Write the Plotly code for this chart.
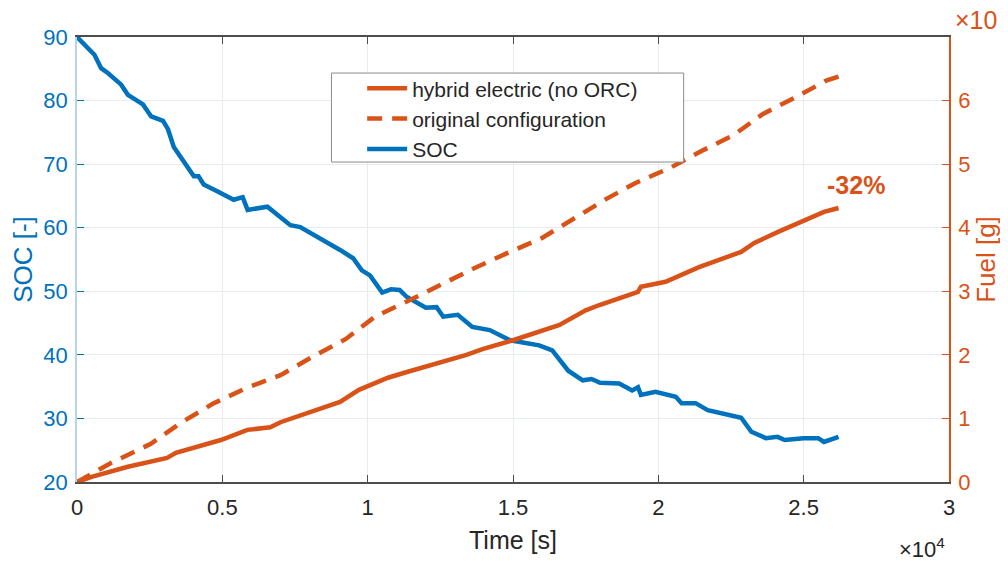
import plotly.graph_objects as go

# Time in units of 1e4 s
soc_t = [0, 0.06, 0.083, 0.107, 0.152, 0.175, 0.227, 0.255, 0.296, 0.313, 0.333, 0.381, 0.402, 0.418,
         0.436, 0.484, 0.539, 0.57, 0.587, 0.655, 0.70, 0.734, 0.768, 0.86, 0.905, 0.95, 0.98, 1.008,
         1.05, 1.08, 1.11, 1.135, 1.20, 1.237, 1.26, 1.31, 1.36, 1.42, 1.49, 1.59, 1.635, 1.69, 1.74,
         1.77, 1.80, 1.865, 1.91, 1.93, 1.94, 1.99, 2.06, 2.08, 2.128, 2.17, 2.24, 2.285, 2.32, 2.37,
         2.41, 2.435, 2.50, 2.55, 2.57, 2.62]
soc_v = [90, 87.2, 85.1, 84.3, 82.5, 80.9, 79.4, 77.5, 76.8, 75.5, 72.7, 69.7, 68.1, 68.1,
         66.8, 65.7, 64.4, 64.8, 62.8, 63.3, 61.7, 60.4, 60.1, 57.8, 56.5, 55.2, 53.3, 52.5,
         49.8, 50.3, 50.2, 49.1, 47.4, 47.5, 46.0, 46.3, 44.4, 43.9, 42.3, 41.5, 40.7, 37.5, 36.0,
         36.2, 35.6, 35.5, 34.4, 34.9, 33.7, 34.2, 33.4, 32.4, 32.4, 31.3, 30.5, 30.1, 27.9, 26.9,
         27.1, 26.6, 26.9, 26.9, 26.3, 27.1]

hyb_t = [0, 0.05, 0.175, 0.31, 0.34, 0.495, 0.586, 0.665, 0.70, 0.86, 0.905, 0.97, 1.07, 1.135,
         1.22, 1.27, 1.34, 1.395, 1.50, 1.66, 1.75, 1.795, 1.93, 1.94, 2.025, 2.14, 2.285, 2.33,
         2.41, 2.57, 2.62]
hyb_v = [0, 0.08, 0.24, 0.38, 0.46, 0.66, 0.82, 0.86, 0.94, 1.19, 1.26, 1.45, 1.64, 1.73,
         1.84, 1.92, 2.0, 2.09, 2.23, 2.47, 2.70, 2.78, 2.99, 3.07, 3.15, 3.38, 3.62, 3.76,
         3.93, 4.25, 4.31]

orig_t = [0, 0.117, 0.254, 0.357, 0.467, 0.583, 0.70, 0.81, 0.925, 1.025, 1.14, 1.25, 1.37, 1.48,
          1.60, 1.82, 1.92, 2.04, 2.15, 2.26, 2.36, 2.48, 2.58, 2.63]
orig_v = [0, 0.30, 0.60, 0.93, 1.23, 1.48, 1.68, 1.97, 2.25, 2.60, 2.85, 3.10, 3.37, 3.60,
          3.84, 4.45, 4.70, 4.94, 5.21, 5.46, 5.79, 6.07, 6.32, 6.39]

x_ticks = [0, 0.5, 1, 1.5, 2, 2.5, 3]
x_labels = ["0", "0.5", "1", "1.5", "2", "2.5", "3"]
soc_ticks = [20, 30, 40, 50, 60, 70, 80, 90]
fuel_ticks = [0, 1, 2, 3, 4, 5, 6]

BLUE = "#0072BD"
ORANGE = "#D95319"
FONT = "Liberation Sans, Arial, sans-serif"

fig = go.Figure()
fig.add_trace(go.Scatter(x=hyb_t, y=hyb_v, yaxis="y2", mode="lines", name="hybrid electric (no ORC)",
                         line=dict(color=ORANGE, width=4.5)))
fig.add_trace(go.Scatter(x=orig_t, y=orig_v, yaxis="y2", mode="lines", name="original configuration",
                         line=dict(color=ORANGE, width=4.5, dash="15px,10px")))
fig.add_trace(go.Scatter(x=soc_t, y=soc_v, yaxis="y", mode="lines", name="SOC",
                         line=dict(color=BLUE, width=4.5)))

fig.update_layout(
    width=1008, height=561,
    margin=dict(l=66, r=67, t=29, b=87),
    paper_bgcolor="white", plot_bgcolor="white",
    font=dict(family=FONT, size=22, color="#262626"),
    showlegend=True,
    legend=dict(x=0.327, y=0.93, xanchor="left", yanchor="top",
                bgcolor="rgba(0,0,0,0)", borderwidth=0,
                font=dict(size=21, color="#262626"), traceorder="normal",
                itemwidth=40, tracegroupgap=0),
    shapes=[dict(type="rect", xref="paper", yref="paper", x0=0.2918, x1=0.6957, y0=0.719, y1=0.919,
                 fillcolor="white", line=dict(color="#8c8c8c", width=1), layer="above")],
    xaxis=dict(range=[0, 3], tickvals=x_ticks, ticktext=x_labels,
               showgrid=True, gridcolor="#e6ecf2", gridwidth=1,
               showline=True, linecolor="#4d4d4d", linewidth=1.5, mirror="ticks",
               ticks="inside", ticklen=7, tickcolor="#4d4d4d", ticklabelstandoff=5,
               tickfont=dict(size=22, color="#262626"),
               title=dict(text="Time [s]", font=dict(size=25, color="#262626"), standoff=12),
               zeroline=False),
    yaxis=dict(range=[20, 90], tickvals=soc_ticks,
               showgrid=True, gridcolor="#e6ecf2", gridwidth=1,
               showline=True, linecolor="#b8d4ec", linewidth=1.5,
               ticks="inside", ticklen=7, tickcolor=BLUE, ticklabelstandoff=3,
               tickfont=dict(size=22, color=BLUE),
               title=dict(text="SOC [-]", font=dict(size=26, color=BLUE), standoff=5),
               zeroline=False),
    yaxis2=dict(range=[0, 7], tickvals=fuel_ticks,
                overlaying="y", side="right", showgrid=False,
                showline=True, linecolor=ORANGE, linewidth=1.5,
                ticks="inside", ticklen=7, tickcolor=ORANGE, ticklabelstandoff=3,
                tickfont=dict(size=22, color=ORANGE),
                title=dict(text="Fuel [g]", font=dict(size=26, color=ORANGE), standoff=7),
                zeroline=False),
    annotations=[
        dict(x=2.68, y=4.67, xref="x", yref="y2", text="<b>-32%</b>", showarrow=False,
             font=dict(size=25, color=ORANGE, family=FONT)),
        dict(x=0.969, y=-0.148, xref="paper", yref="paper", text="×10<sup>4</sup>", showarrow=False,
             font=dict(size=22, color="#262626", family=FONT), xanchor="center", yanchor="middle"),
        dict(x=1.0046, y=1.038, xref="paper", yref="paper", text="×10", showarrow=False,
             font=dict(size=25, color=ORANGE, family=FONT), xanchor="left", yanchor="middle"),
    ],
)

fig.write_html("out.html")
